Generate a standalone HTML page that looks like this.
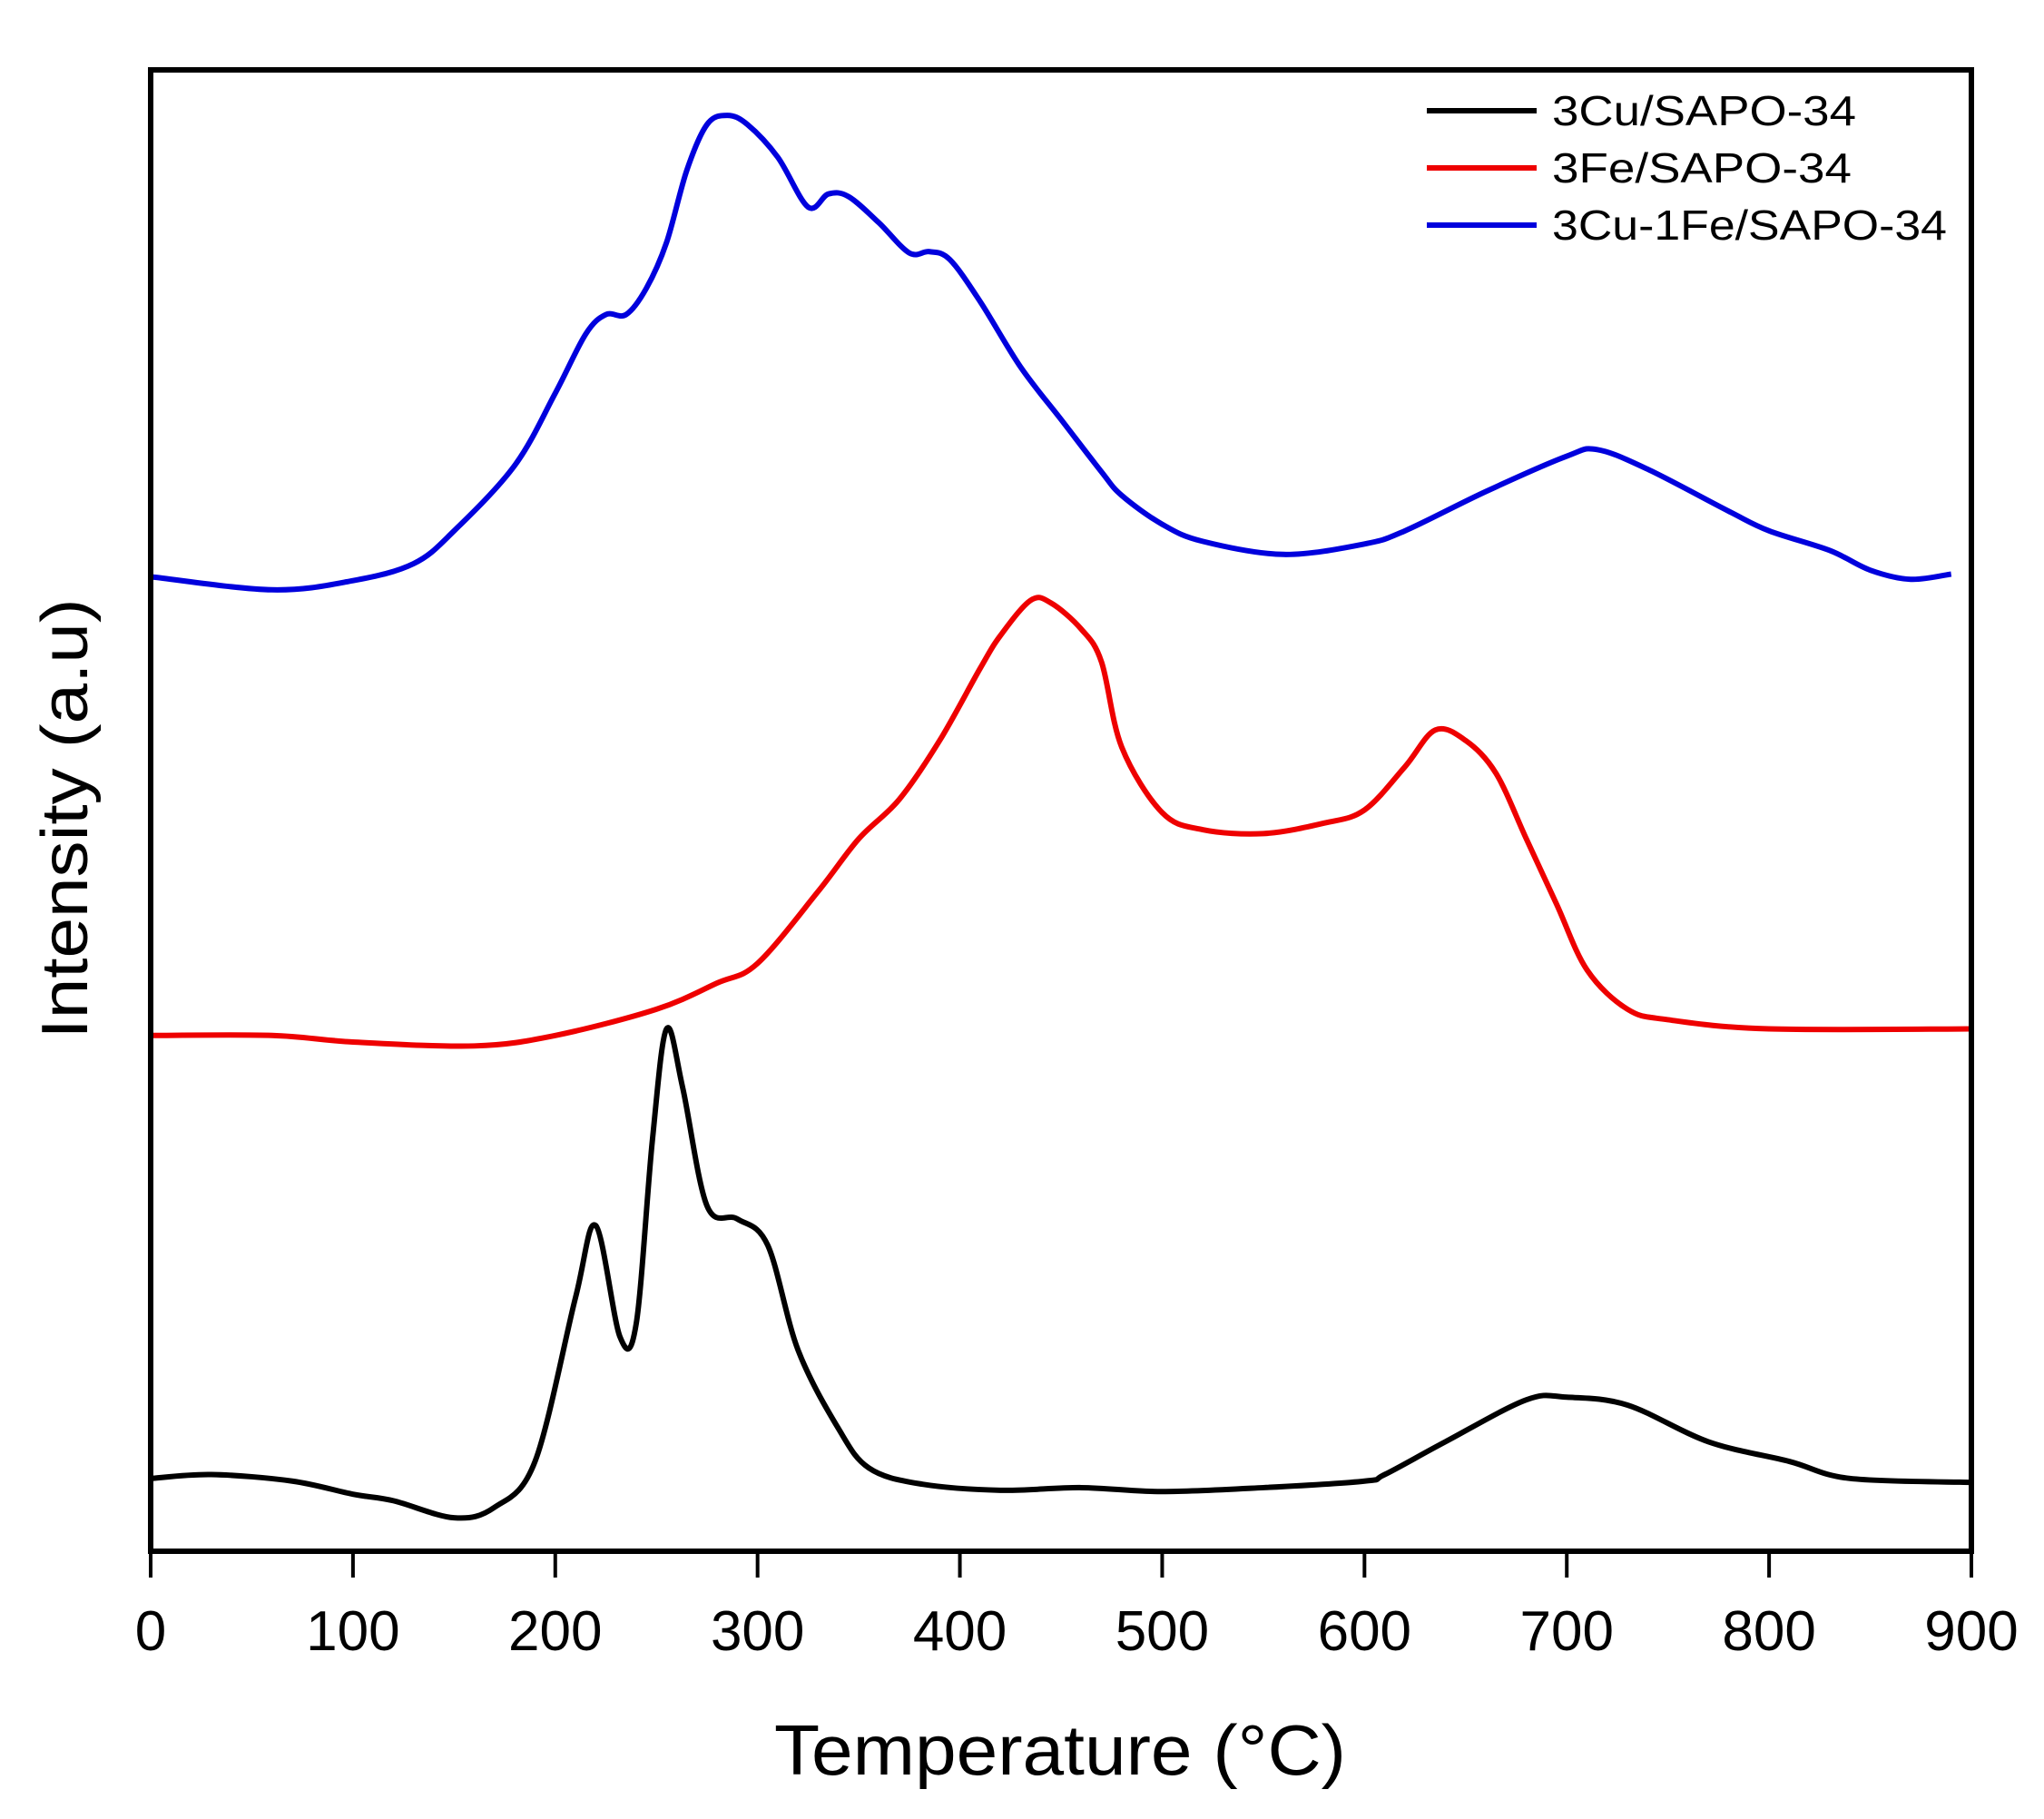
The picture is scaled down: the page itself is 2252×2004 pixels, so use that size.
<!DOCTYPE html>
<html><head><meta charset="utf-8"><style>html,body{margin:0;padding:0;background:#fff}svg{display:block}</style></head>
<body>
<svg id="s" width="2252" height="2004" viewBox="0 0 2252 2004" xmlns="http://www.w3.org/2000/svg" font-family="Liberation Sans, Arial, sans-serif">
<rect width="2252" height="2004" fill="#fff"/>
<g id="curves" fill="none" stroke-width="6" stroke-linejoin="round"></g>
<rect x="166" y="77" width="2006" height="1632" fill="none" stroke="#000" stroke-width="6"/>
<g id="ticks" stroke="#000" stroke-width="4"></g>
<g id="tl" font-size="62" text-anchor="middle" fill="#000"></g>
<text x="1168" y="1955" font-size="78" text-anchor="middle" textLength="630" lengthAdjust="spacingAndGlyphs">Temperature (°C)</text>
<text transform="translate(96,902) rotate(-90)" font-size="72" text-anchor="middle" textLength="485" lengthAdjust="spacingAndGlyphs">Intensity (a.u)</text>
<line x1="1572" y1="122" x2="1693" y2="122" stroke="#000" stroke-width="6"/>
<line x1="1572" y1="185" x2="1693" y2="185" stroke="#e00" stroke-width="6"/>
<line x1="1572" y1="248" x2="1693" y2="248" stroke="#00d" stroke-width="6"/>
<g font-size="46" fill="#000">
<text x="1710" y="138" textLength="335" lengthAdjust="spacingAndGlyphs">3Cu/SAPO-34</text>
<text x="1710" y="201" textLength="330" lengthAdjust="spacingAndGlyphs">3Fe/SAPO-34</text>
<text x="1710" y="264" textLength="435" lengthAdjust="spacingAndGlyphs">3Cu-1Fe/SAPO-34</text>
</g>
</svg>
<script>
var NS="http://www.w3.org/2000/svg";
function X(t){return 166+t*(2172-166)/900;}
function Y(y){return y*1.444;}
var blue=[[0,440],[60,450],[100,443],[130,430],[150,405],[180,355],[200,300],[215,255],[225,240],[235,240],[245,220],[255,185],[265,130],[275,95],[285,88],[295,95],[310,120],[325,158],[335,148],[345,150],[360,170],[375,193],[385,192],[395,198],[410,230],[430,280],[450,320],[470,360],[480,378],[500,400],[520,413],[560,423],[600,415],[620,405],[660,375],[700,348],[715,343],[740,358],[780,390],[800,405],[830,420],[850,435],[870,442],[890,438]];
var red=[[0,790],[60,790],[100,795],[160,798],[200,790],[250,770],[280,750],[300,735],[330,680],[350,640],[370,610],[390,565],[410,510],[420,485],[435,458],[445,460],[460,480],[470,505],[480,570],[500,620],[520,633],[550,636],[580,628],[600,618],[620,585],[635,557],[650,565],[665,590],[680,640],[695,690],[710,740],[730,770],[750,778],[800,785],[900,785]];
var black=[[0,1128],[30,1125],[70,1130],[100,1140],[120,1145],[150,1158],[170,1150],[190,1115],[210,990],[220,935],[232,1020],[240,1010],[248,870],[255,785],[263,830],[275,920],[290,930],[305,950],[320,1030],[340,1090],[355,1120],[380,1132],[420,1137],[460,1135],[500,1138],[550,1135],[600,1130],[610,1125],[640,1100],[680,1068],[700,1066],[730,1072],[770,1100],[810,1115],[840,1128],[900,1131]];
function path(d){var p=d.map(function(a){return [X(a[0]),Y(a[1])];});var s="M"+p[0][0]+","+p[0][1];
for(var i=0;i<p.length-1;i++){var p0=p[i-1]||p[i],p1=p[i],p2=p[i+1],p3=p[i+2]||p2;
s+=" C"+(p1[0]+(p2[0]-p0[0])/6)+","+(p1[1]+(p2[1]-p0[1])/6)+" "+(p2[0]-(p3[0]-p1[0])/6)+","+(p2[1]-(p3[1]-p1[1])/6)+" "+p2[0]+","+p2[1];}return s;}
var g=document.getElementById("curves");
[[black,"#000"],[red,"#e00"],[blue,"#00d"]].forEach(function(c){var e=document.createElementNS(NS,"path");e.setAttribute("d",path(c[0]));e.setAttribute("stroke",c[1]);g.appendChild(e);});
var tk=document.getElementById("ticks"),tl=document.getElementById("tl");
for(var t=0;t<=900;t+=100){var x=X(t);var l=document.createElementNS(NS,"line");l.setAttribute("x1",x);l.setAttribute("x2",x);l.setAttribute("y1",1709);l.setAttribute("y2",1738);tk.appendChild(l);
var tx=document.createElementNS(NS,"text");tx.setAttribute("x",x);tx.setAttribute("y",1818);tx.textContent=t;tl.appendChild(tx);}
</script>
</body></html>
